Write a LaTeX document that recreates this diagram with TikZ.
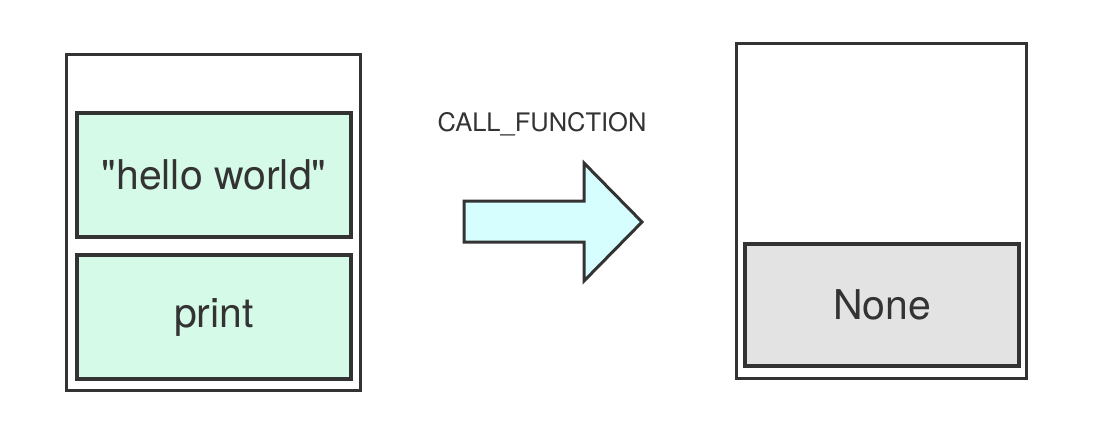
\documentclass[tikz,border=0pt]{standalone}
\usepackage{fontspec}
\setmainfont{TeX Gyre Heros}[Ligatures=TeXOff]
\usepackage{xcolor}
\usetikzlibrary{positioning}

\definecolor{edge}{HTML}{333333}
\definecolor{objgreen}{HTML}{D5FAE8}
\definecolor{callcyan}{HTML}{D6FEFE}
\definecolor{nonegray}{HTML}{E3E3E3}

\begin{document}
\begin{tikzpicture}[
    x=1pt, y=-1pt,
    frame/.style={draw=edge, line width=3pt, fill=white, inner sep=0pt,
                  minimum width=#1},
    slot/.style={draw=edge, line width=4pt, fill=#1, inner sep=0pt,
                 minimum width=274pt, minimum height=124pt,
                 font=\fontsize{41}{48}\selectfont, text=edge},
    callarrow/.style={draw=edge, line width=3pt, fill=callcyan, line join=miter},
]
\useasboundingbox (0,0) rectangle (1110,442);

% value stack before the call
\node[frame=294pt, minimum height=336pt] (before) at (213.5,222.5) {};
\node[slot=objgreen] (hello) at (214,175) {"hello world"};
\node[slot=objgreen] (print) at (214,317) {\raisebox{-4pt}{print}};

% the opcode
\coordinate (shaft) at (464,221.5);
\draw[callarrow] (shaft) ++(0,-20.5) -- ++(120,0) -- ++(0,-38)
    -- (642,222) -- (584,281) -- ++(0,-39) -- ++(-120,0) -- cycle;
\node[font=\fontsize{25.5}{30}\selectfont, text=edge] (opname) at (542,124) {CALL\_FUNCTION};

% value stack after the call
\node[frame=290pt, minimum height=335pt] (after) at (881.5,211) {};
\node[slot=nonegray, minimum height=122pt] (none) at (882,305) {\raisebox{-2pt}{None}};
\end{tikzpicture}
\end{document}
